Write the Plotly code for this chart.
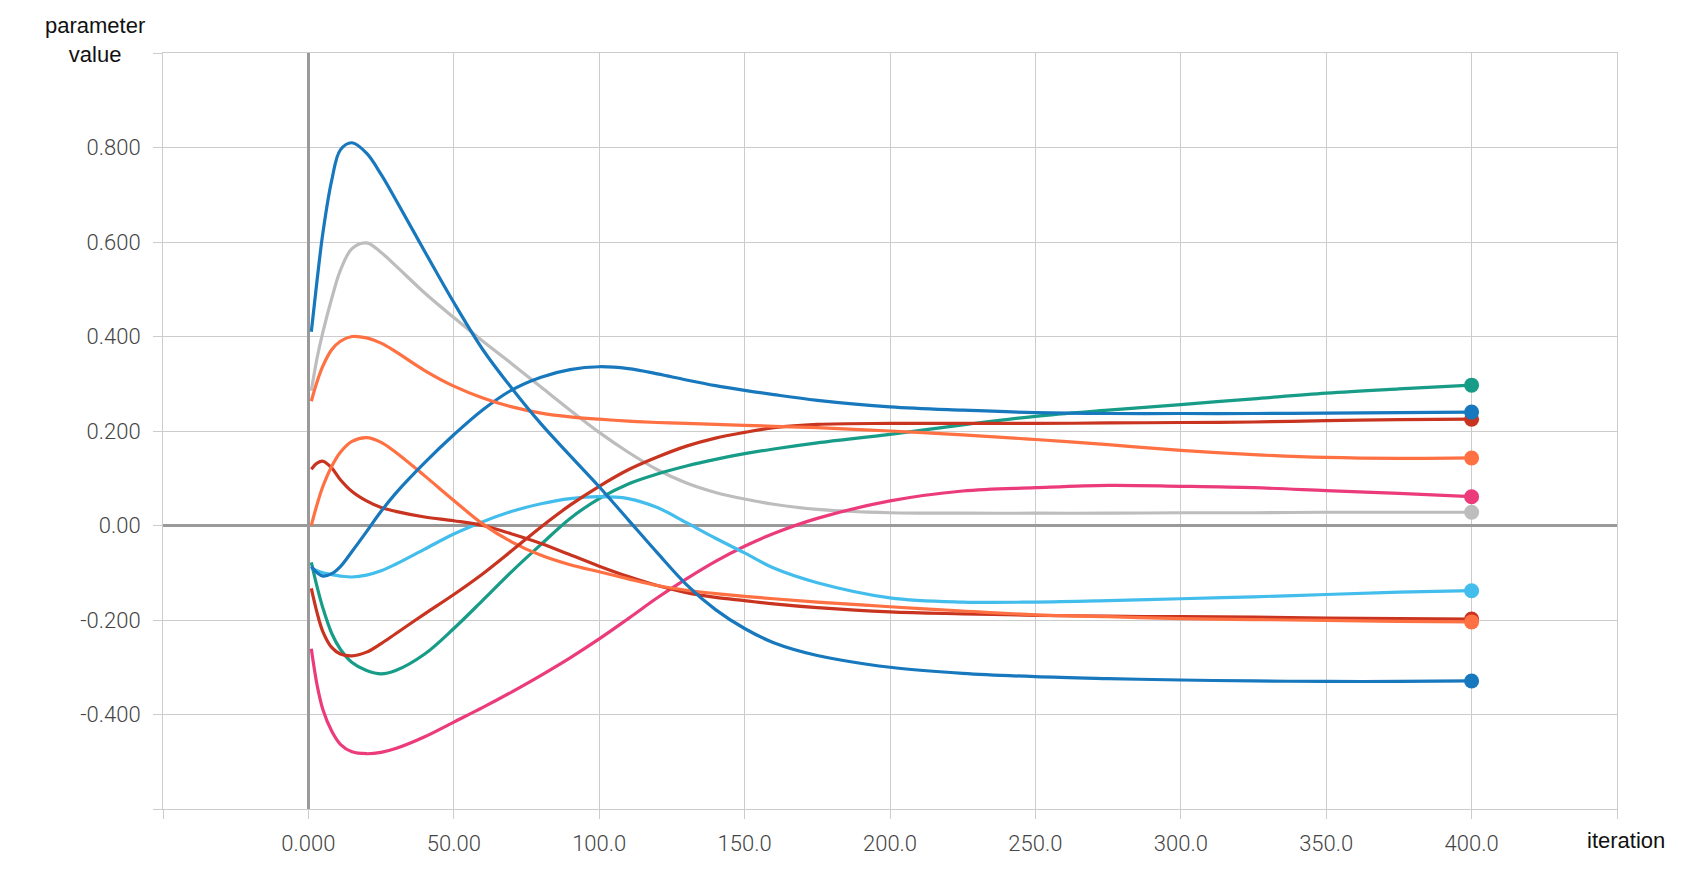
import plotly.graph_objects as go

iterations = [1, 3, 5, 8, 11, 15, 20, 25, 30, 40, 50, 60, 70, 80, 90, 100, 110, 120,
              130, 140, 150, 160, 175, 200, 225, 250, 275, 300, 325, 350, 375, 400]

gray = [0.285, 0.355, 0.41, 0.48, 0.54, 0.586, 0.598, 0.578, 0.55, 0.492, 0.44, 0.39,
        0.342, 0.293, 0.244, 0.197, 0.155, 0.118, 0.09, 0.07, 0.056, 0.045, 0.034,
        0.027, 0.026, 0.026, 0.026, 0.027, 0.027, 0.028, 0.028, 0.028]
pink = [-0.261, -0.338, -0.39, -0.435, -0.463, -0.479, -0.483, -0.48, -0.472, -0.447,
        -0.416, -0.385, -0.352, -0.317, -0.28, -0.24, -0.197, -0.153, -0.113, -0.076,
        -0.044, -0.017, 0.015, 0.052, 0.073, 0.08, 0.085, 0.083, 0.08, 0.074, 0.068, 0.061]
teal = [-0.078, -0.13, -0.175, -0.228, -0.262, -0.29, -0.307, -0.314, -0.307, -0.272,
        -0.218, -0.158, -0.097, -0.04, 0.015, 0.057, 0.088, 0.109, 0.126, 0.14, 0.152,
        0.162, 0.175, 0.193, 0.213, 0.231, 0.244, 0.256, 0.268, 0.28, 0.289, 0.297]
light_blue = [-0.09, -0.096, -0.1, -0.104, -0.107, -0.109, -0.105, -0.096, -0.082,
              -0.05, -0.018, 0.008, 0.03, 0.046, 0.057, 0.061, 0.057, 0.038, 0.006,
              -0.027, -0.058, -0.09, -0.121, -0.153, -0.162, -0.162, -0.159, -0.155,
              -0.151, -0.146, -0.141, -0.138]
red_a = [0.119, 0.132, 0.136, 0.122, 0.097, 0.072, 0.052, 0.038, 0.03, 0.018, 0.01,
         0.0, -0.018, -0.038, -0.062, -0.086, -0.108, -0.127, -0.142, -0.152, -0.159,
         -0.166, -0.174, -0.183, -0.187, -0.19, -0.192, -0.193, -0.194, -0.196, -0.197, -0.198]
orange_b = [0.0, 0.045, 0.083, 0.125, 0.155, 0.178, 0.186, 0.176, 0.155, 0.105, 0.053,
            0.003, -0.035, -0.063, -0.083, -0.098, -0.113, -0.127, -0.137, -0.144, -0.15,
            -0.155, -0.162, -0.172, -0.181, -0.189, -0.193, -0.197, -0.199, -0.201, -0.203, -0.204]
red_b = [-0.133, -0.185, -0.225, -0.258, -0.272, -0.276, -0.268, -0.25, -0.229, -0.187,
         -0.146, -0.102, -0.053, -0.003, 0.043, 0.083, 0.118, 0.145, 0.168, 0.185, 0.197,
         0.207, 0.214, 0.216, 0.216, 0.216, 0.217, 0.218, 0.219, 0.222, 0.224, 0.225]
blue_b = [-0.087, -0.1, -0.107, -0.102, -0.087, -0.055, -0.013, 0.03, 0.068, 0.133, 0.192,
          0.245, 0.287, 0.314, 0.33, 0.336, 0.332, 0.321, 0.308, 0.296, 0.286, 0.277,
          0.265, 0.251, 0.244, 0.239, 0.237, 0.237, 0.237, 0.238, 0.239, 0.24]
orange_a = [0.263, 0.305, 0.338, 0.372, 0.39, 0.4, 0.397, 0.386, 0.368, 0.328, 0.295,
            0.27, 0.251, 0.238, 0.23, 0.225, 0.221, 0.218, 0.216, 0.214, 0.212, 0.21,
            0.207, 0.2, 0.192, 0.182, 0.171, 0.159, 0.15, 0.144, 0.142, 0.143]
blue_a = [0.41, 0.52, 0.62, 0.73, 0.795, 0.81, 0.788, 0.743, 0.69, 0.58, 0.472, 0.372,
          0.29, 0.215, 0.148, 0.082, 0.012, -0.058, -0.125, -0.178, -0.218, -0.248, -0.275,
          -0.30, -0.313, -0.32, -0.324, -0.327, -0.329, -0.33, -0.33, -0.329]

series = [
    ("gray", gray, "#bdbdbd"),
    ("pink", pink, "#ec3b7b"),
    ("teal", teal, "#179c88"),
    ("light blue", light_blue, "#42bdec"),
    ("red a", red_a, "#c8341f"),
    ("orange b", orange_b, "#ff7043"),
    ("red b", red_b, "#c8341f"),
    ("blue b", blue_b, "#1778bd"),
    ("orange a", orange_a, "#ff7043"),
    ("blue a", blue_a, "#1778bd"),
]

x_ticks = [-50, 0, 50, 100, 150, 200, 250, 300, 350, 400, 450]
x_labels = ["", "0.000", "50.00", "100.0", "150.0", "200.0", "250.0", "300.0", "350.0", "400.0", ""]
y_ticks = [-0.6, -0.4, -0.2, 0.0, 0.2, 0.4, 0.6, 0.8, 1.0]
y_labels = ["", "-0.400", "-0.200", "0.00", "0.200", "0.400", "0.600", "0.800", ""]

fig = go.Figure()
for name, vals, color in series:
    fig.add_trace(go.Scatter(
        x=iterations, y=vals, mode="lines", name=name,
        line=dict(color=color, width=3.2, shape="spline", smoothing=1.0),
        hoverinfo="skip", showlegend=False,
    ))
for name, vals, color in series:
    fig.add_trace(go.Scatter(
        x=[iterations[-1]], y=[vals[-1]], mode="markers",
        marker=dict(color=color, size=15), showlegend=False, hoverinfo="skip",
    ))

tick_font = dict(family="Roboto, Liberation Sans, sans-serif", size=22, color="#444444", weight=300)
fig.update_layout(
    width=1691, height=879,
    margin=dict(l=155, r=82, t=45, b=78),
    paper_bgcolor="white", plot_bgcolor="white",
    xaxis=dict(
        range=[-50, 450], tickmode="array", tickvals=x_ticks, ticktext=x_labels,
        showgrid=True, gridcolor="#cccccc", gridwidth=1,
        zeroline=True, zerolinecolor="#9a9a9a", zerolinewidth=2.5,
        showline=True, linecolor="#cccccc", linewidth=1, mirror=True,
        ticks="outside", ticklen=9, tickcolor="#cccccc", tickwidth=1,
        tickfont=tick_font, ticklabelstandoff=6,
    ),
    yaxis=dict(
        range=[-0.6, 1.0], tickmode="array", tickvals=y_ticks, ticktext=y_labels,
        showgrid=True, gridcolor="#cccccc", gridwidth=1,
        zeroline=True, zerolinecolor="#9a9a9a", zerolinewidth=2.5,
        showline=True, linecolor="#cccccc", linewidth=1, mirror=True,
        ticks="outside", ticklen=9, tickcolor="#cccccc", tickwidth=1,
        tickfont=tick_font, ticklabelstandoff=8,
    ),
    annotations=[
        dict(text="parameter<br>value", xref="paper", yref="paper", x=-0.0468, y=1.0166,
             xanchor="center", yanchor="middle", showarrow=False, align="center",
             font=dict(family="Liberation Sans, Arial, sans-serif", size=22, color="#111111")),
        dict(text="iteration", xref="paper", yref="paper", x=1.0062, y=-0.0423,
             xanchor="center", yanchor="middle", showarrow=False,
             font=dict(family="Liberation Sans, Arial, sans-serif", size=22, color="#111111")),
    ],
)

fig.write_html("out.html")
